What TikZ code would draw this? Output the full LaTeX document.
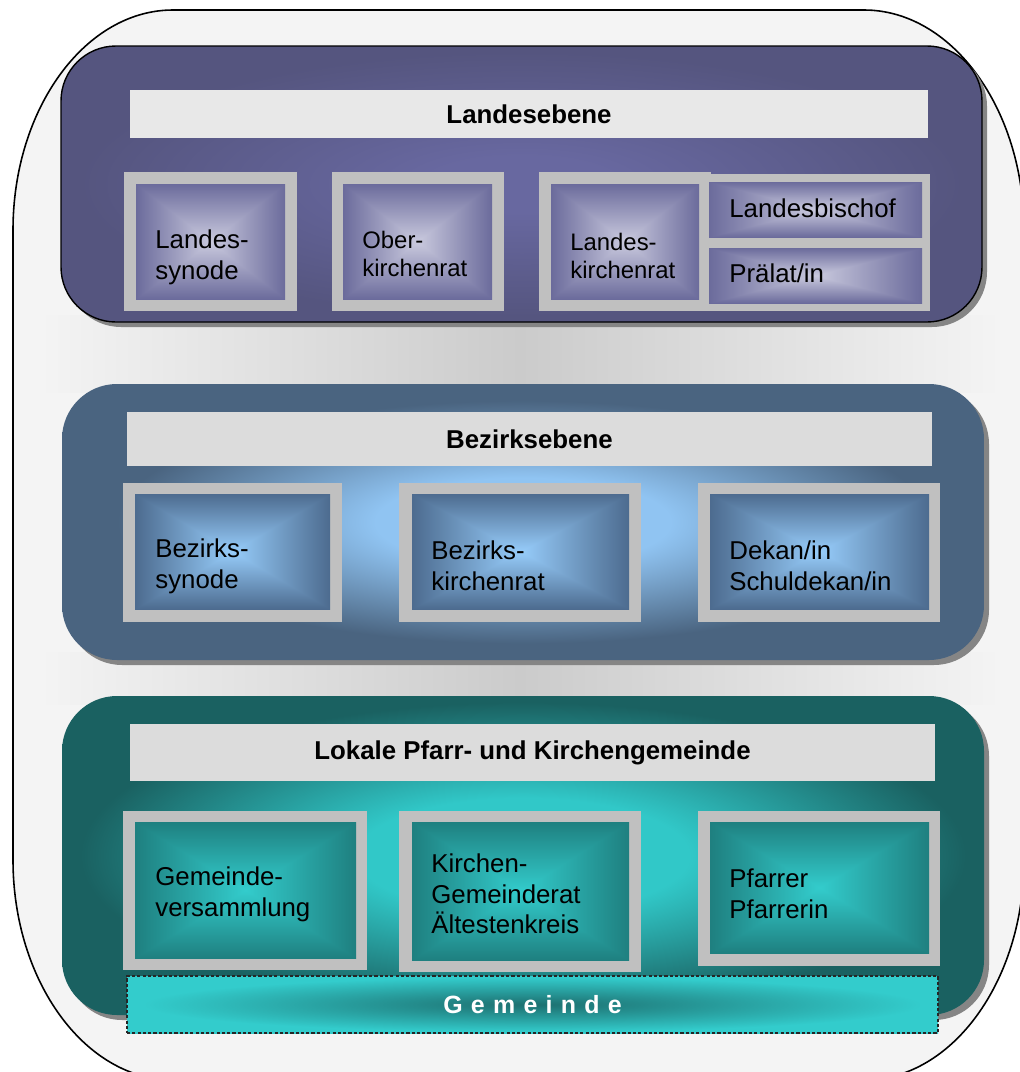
\documentclass[tikz,border=0pt]{standalone}
\usepackage{fontspec}
\setmainfont{Liberation Sans}
\usepackage{tikz}
\usetikzlibrary{fit,shadows}
\definecolor{bggray}{HTML}{F4F4F4}
\definecolor{shadegray}{HTML}{CBCBCB}
\definecolor{barhell}{HTML}{E8E8E8}
\definecolor{bargray}{HTML}{DCDCDC}
\definecolor{framegray}{HTML}{C0C0C0}
\definecolor{lilaedge}{HTML}{55557F}
\definecolor{lilaglow}{HTML}{6868A0}
\definecolor{blauedge}{HTML}{4A6480}
\definecolor{blauglow}{HTML}{90C4F2}
\definecolor{tuerkisedge}{HTML}{1A6161}
\definecolor{tuerkisglow}{HTML}{31C8C8}
\definecolor{bandhell}{HTML}{33CCCC}
\definecolor{banddunkel}{HTML}{1D7070}
% Flaeche: Pfad entspricht den mittleren 50bp
\pgfdeclareradialshading{glowlila}{\pgfpointorigin}{color(0bp)=(lilaglow); color(5bp)=(lilaglow); color(24bp)=(lilaedge); color(40bp)=(lilaedge)}
\pgfdeclareradialshading{glowblau}{\pgfpointorigin}{color(0bp)=(blauglow); color(8bp)=(blauglow); color(22bp)=(blauedge); color(40bp)=(blauedge)}
\pgfdeclareradialshading{glowtuerkis}{\pgfpointorigin}{color(0bp)=(tuerkisglow); color(9bp)=(tuerkisglow); color(24bp)=(tuerkisedge); color(40bp)=(tuerkisedge)}
\pgfdeclareradialshading{glowband}{\pgfpointorigin}{color(0bp)=(banddunkel); color(24bp)=(bandhell); color(40bp)=(bandhell)}
% Kasten: hell in der Mitte, dunkel zum Rand (Pyramide)
\newcommand\kastenshading[7]{%
  \pgfdeclarefunctionalshading{#1}{\pgfpoint{-50bp}{-50bp}}{\pgfpoint{50bp}{50bp}}{}{%
    abs exch abs 2 copy lt {exch} if pop 25 div 1 2 copy gt {exch} if pop
    dup #5 mul #2 add exch dup #6 mul #3 add exch #7 mul #4 add}}
\kastenshading{kastenlila}{0.79}{0.79}{0.87}{-0.37}{-0.37}{-0.26}
\kastenshading{kastenblau}{0.59}{0.80}{0.98}{-0.29}{-0.38}{-0.42}
\kastenshading{kastentuerkis}{0.20}{0.80}{0.80}{-0.08}{-0.30}{-0.30}
\tikzset{
  panel/.style={rounded corners=1.1cm,inner sep=0pt,
    drop shadow={shadow xshift=0.1cm,shadow yshift=-0.1cm,fill=black!48,opacity=1}},
  bar/.style={fill=bargray,inner sep=0pt},
  frame/.style={fill=framegray,inner sep=0pt},
  kasten/.style={inner sep=0pt,shading=#1},
  luecke/.style={left color=bggray,right color=bggray,middle color=shadegray},
  ttl/.style={font=\fontsize{14.7}{17}\selectfont\bfseries,inner sep=0pt},
  txt/.style={font=\fontsize{14.7}{17.5}\selectfont,align=left,anchor=west,inner sep=0pt},
  txtklein/.style={font=\fontsize{13.6}{15.5}\selectfont,align=left,anchor=west,inner sep=0pt}
}
\begin{document}
\begin{tikzpicture}[x=0.02cm,y=-0.02cm]
\useasboundingbox (0,0) rectangle (1019,1072);
% Hintergrund
\draw[line width=0.9pt,fill=bggray] (13,230) .. controls (13,109) and (85,10) .. (173,10)
  -- (864,10) .. controls (952,10) and (1024,109) .. (1024,230)
  -- (1024,860) .. controls (1024,981) and (952,1080) .. (864,1080)
  -- (173,1080) .. controls (85,1080) and (13,981) .. (13,860) -- cycle;
\fill[luecke] (40,315) rectangle (1000,392);
\fill[luecke] (40,652) rectangle (1000,704);

% Landesebene
\node[panel,draw=black,line width=0.8pt,shading=glowlila,fit={(61,46) (982,322)}] (pLandes) {};
\node[bar,fill=barhell,fit={(130,90) (928,138)}] (bLandes) {};
\node[ttl] (tLandes) at (bLandes) {Landesebene};
\node[frame,fit={(124,172) (297,311)}] (fLSynode) {};
\node[kasten=kastenlila,fit={(136,184) (285,299)}] (kLSynode) {};
\node[txt] (tLSynode) at (155,257) {Landes-\\synode};
\node[frame,fit={(332,172) (504,311)}] (fOKR) {};
\node[kasten=kastenlila,fit={(343,184) (492,299)}] (kOKR) {};
\node[txtklein] (tOKR) at (362,254) {Ober-\\kirchenrat};
\node[frame,fit={(539,172) (711,311)}] (fLKR) {};
\node[frame,fit={(702,174) (930,311)}] (fLB) {};
\node[kasten=kastenlila,fit={(551,184) (699,299)}] (kLKR) {};
\node[txtklein] (tLKR) at (570,256) {Landes-\\kirchenrat};
\node[kasten=kastenlila,fit={(709,182) (922,237)}] (kBischof) {};
\node[txt] (tBischof) at (729,208) {Landesbischof};
\node[kasten=kastenlila,fit={(709,248) (922,303)}] (kPraelat) {};
\node[txt] (tPraelat) at (729,273) {Prälat/in};

% Bezirksebene
\node[panel,shading=glowblau,fit={(62,384) (984,660)}] (pBezirk) {};
\node[bar,fit={(127,412) (932,466)}] (bBezirk) {};
\node[ttl] (tBezirk) at (bBezirk) {Bezirksebene};
\node[frame,fit={(123,483) (342,622)}] (fBSynode) {};
\node[kasten=kastenblau,fit={(135,494) (330,609)}] (kBSynode) {};
\node[txt] (tBSynode) at (155,566) {Bezirks-\\synode};
\node[frame,fit={(399,483) (641,622)}] (fBKR) {};
\node[kasten=kastenblau,fit={(412,494) (629,609)}] (kBKR) {};
\node[txt] (tBKR) at (431,566) {Bezirks-\\kirchenrat};
\node[frame,fit={(698,483) (940,622)}] (fDekan) {};
\node[kasten=kastenblau,fit={(710,494) (929,609)}] (kDekan) {};
\node[txt] (tDekan) at (729,566) {Dekan/in\\Schuldekan/in};

% Lokale Pfarr- und Kirchengemeinde
\node[panel,shading=glowtuerkis,fit={(62,696) (984,1015)}] (pLokal) {};
\node[bar,fit={(130,724) (935,781)}] (bLokal) {};
\node[ttl] (tLokal) at (bLokal) {Lokale Pfarr- und Kirchengemeinde};
\node[frame,fit={(123,811) (367,970)}] (fGV) {};
\node[kasten=kastentuerkis,fit={(135,822) (356,958)}] (kGV) {};
\node[txt] (tGV) at (155,894) {Gemeinde-\\versammlung};
\node[frame,fit={(399,811) (641,972)}] (fKGR) {};
\node[kasten=kastentuerkis,fit={(412,822) (629,960)}] (kKGR) {};
\node[txt] (tKGR) at (431,894) {Kirchen-\\Gemeinderat\\Ältestenkreis};
\node[frame,fit={(698,811) (940,966)}] (fPfarrer) {};
\node[kasten=kastentuerkis,fit={(710,822) (929,953)}] (kPfarrer) {};
\node[txt] (tPfarrer) at (729,894) {Pfarrer\\Pfarrerin};
\node[inner sep=0pt,shading=glowband,draw=black!85,line width=0.6pt,
  dash pattern=on 1.8pt off 1.2pt,fit={(127,976) (938,1033)}] (bGemeinde) {};
\node[inner sep=0pt,text=white,
  font=\fontsize{14.2}{16}\selectfont\bfseries\addfontfeature{LetterSpace=33}]
  (tGemeinde) at (bGemeinde) {Gemeinde};
\end{tikzpicture}
\end{document}
